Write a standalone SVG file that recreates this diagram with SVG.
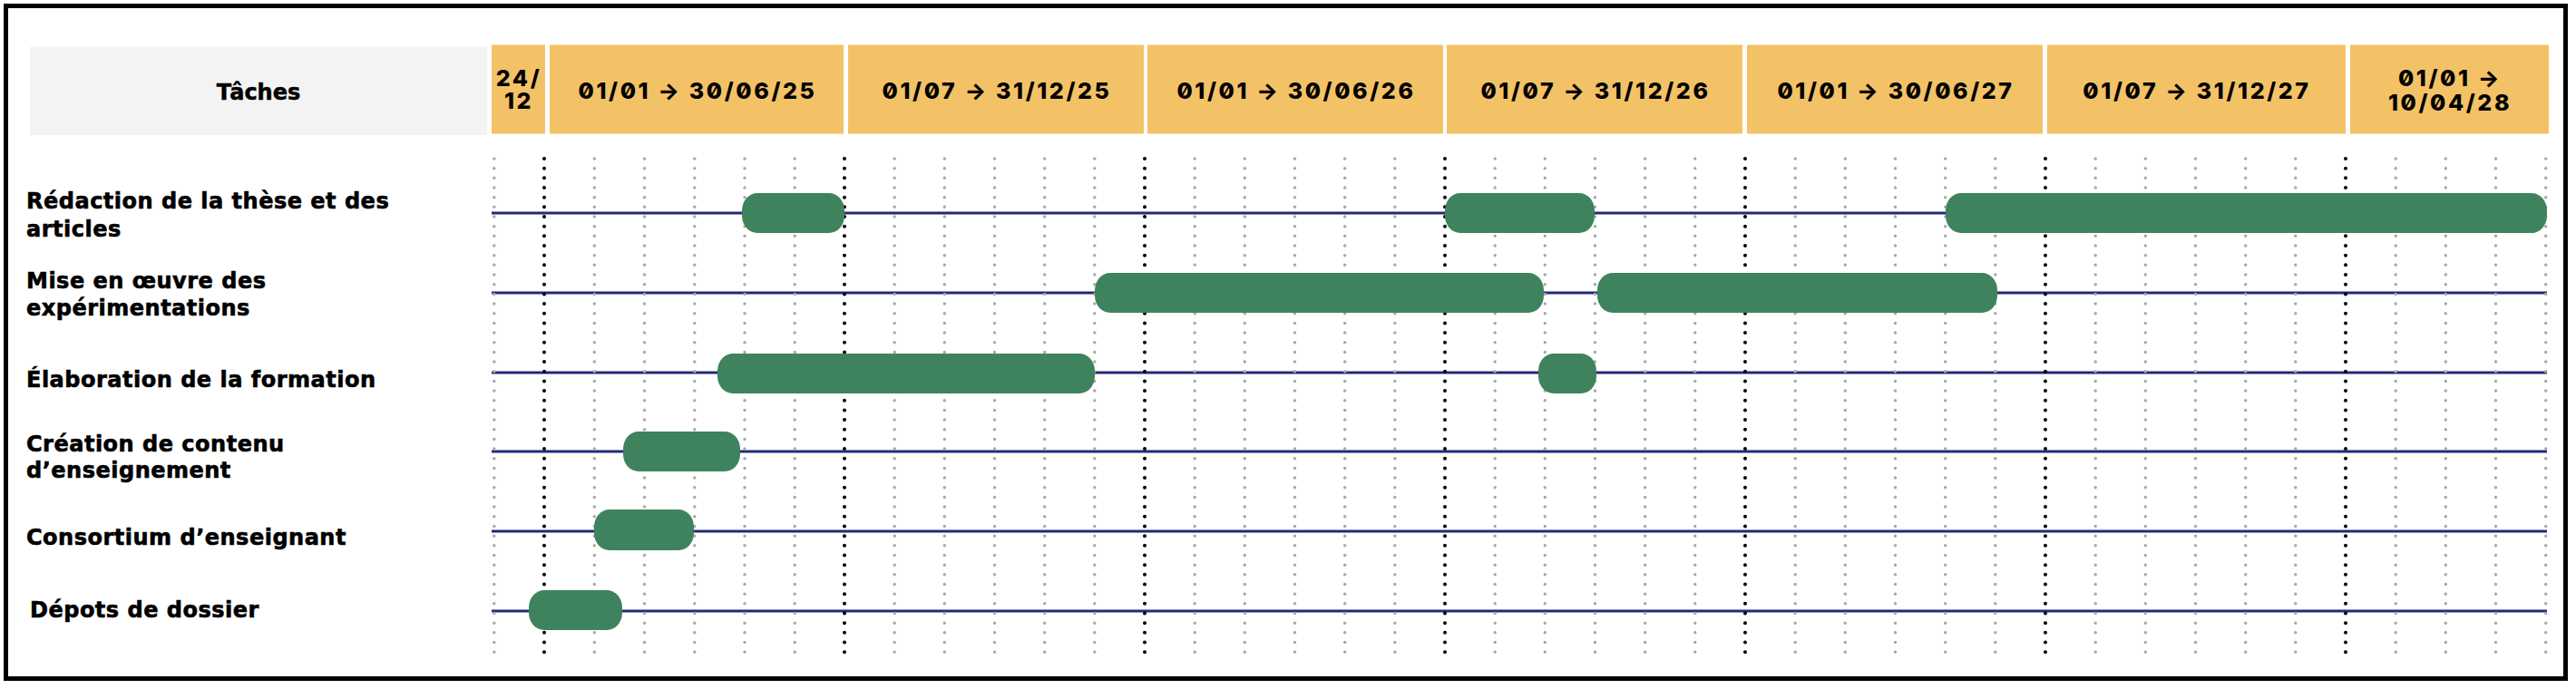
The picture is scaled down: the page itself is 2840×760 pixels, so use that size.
<svg xmlns="http://www.w3.org/2000/svg" width="2840" height="760" viewBox="0 0 2840 760">
<defs>
<style>
.frame{fill:#ffffff;stroke:#000000;stroke-width:5}
.hcell{fill:#f4c266}
.tcell{fill:#f3f3f3}
.hdate{font-family:Inter,"DejaVu Sans",sans-serif;font-weight:800;font-size:25px;letter-spacing:2.6px;fill:#000;text-anchor:middle;font-feature-settings:"zero" 1}
.htask{font-family:"DejaVu Sans",sans-serif;font-weight:700;font-size:24px;fill:#000;stroke:#000;stroke-width:0.5;text-anchor:middle}
.label{font-family:"DejaVu Sans",sans-serif;font-weight:700;font-size:24px;letter-spacing:0.5px;fill:#000;stroke:#000;stroke-width:0.6}
.row{stroke:#26287a;stroke-width:3;fill:none}
.g{stroke:#a9a9a9;stroke-width:3.5;stroke-linecap:round;stroke-dasharray:0 10.67;fill:none}
.k{stroke:#000;stroke-width:4;stroke-linecap:round;stroke-dasharray:0 10.67;fill:none}
.bar{fill:#3f835e}
</style>
</defs>
<rect class="frame" x="6.5" y="6.5" width="2822" height="742"/>

<g id="header">
<g id="h-taches"><rect class="tcell" x="33" y="51.5" width="504" height="97.5"/><text class="htask" x="285" y="110">Tâches</text></g>
<g id="h-2412"><rect class="hcell" x="542" y="49.5" width="59" height="98"/><text class="hdate" x="572" y="95">24/</text><text class="hdate" x="572" y="120">12</text></g>
<g id="h-s1-25"><rect class="hcell" x="606" y="49.5" width="324" height="98"/><text class="hdate" x="769" y="109">01/01 → 30/06/25</text></g>
<g id="h-s2-25"><rect class="hcell" x="935" y="49.5" width="326" height="98"/><text class="hdate" x="1099" y="109">01/07 → 31/12/25</text></g>
<g id="h-s1-26"><rect class="hcell" x="1265" y="49.5" width="326" height="98"/><text class="hdate" x="1429" y="109">01/01 → 30/06/26</text></g>
<g id="h-s2-26"><rect class="hcell" x="1595" y="49.5" width="326" height="98"/><text class="hdate" x="1759" y="109">01/07 → 31/12/26</text></g>
<g id="h-s1-27"><rect class="hcell" x="1926" y="49.5" width="326" height="98"/><text class="hdate" x="2090" y="109">01/01 → 30/06/27</text></g>
<g id="h-s2-27"><rect class="hcell" x="2257" y="49.5" width="329" height="98"/><text class="hdate" x="2422" y="109">01/07 → 31/12/27</text></g>
<g id="h-s1-28"><rect class="hcell" x="2591" y="49.5" width="219" height="98"/><text class="hdate" x="2701" y="95">01/01 →</text><text class="hdate" x="2701" y="122">10/04/28</text></g>
</g>

<g id="connectors">
<g id="rows">
<line class="row" x1="542" y1="235" x2="2808" y2="235"/>
<line class="row" x1="542" y1="323" x2="2808" y2="323"/>
<line class="row" x1="542" y1="411" x2="2808" y2="411"/>
<line class="row" x1="542" y1="498" x2="2808" y2="498"/>
<line class="row" x1="542" y1="586" x2="2808" y2="586"/>
<line class="row" x1="542" y1="674" x2="2808" y2="674"/>
</g>
<g id="grid">
<path class="g" d="M544.8 175V720M655.3 175V720M710.5 175V720M765.8 175V720M821 175V720M876.2 175V720M986.2 175V720M1041.3 175V720M1096.5 175V720M1151.7 175V720M1206.8 175V720M1317.2 175V720M1372.3 175V720M1427.5 175V720M1482.7 175V720M1537.8 175V720M1648.2 175V720M1703.3 175V720M1758.5 175V720M1813.7 175V720M1868.8 175V720M1979.2 175V720M2034.3 175V720M2089.5 175V720M2144.7 175V720M2199.8 175V720M2310.2 175V720M2365.3 175V720M2420.5 175V720M2475.7 175V720M2530.8 175V720M2641.2 175V720M2696.3 175V720M2751.5 175V720M2806.7 175V720"/>
<path class="k" d="M600 175V720M931 175V720M1262 175V720M1593 175V720M1924 175V720M2255 175V720M2586 175V720"/>
</g>
</g>

<g id="task-redaction">
<text class="label" x="29" y="230">Rédaction de la thèse et des</text>
<text class="label" x="29" y="261">articles</text>
<rect class="bar" x="818" y="213" width="113" height="44" rx="17" ry="19"/>
<rect class="bar" x="1593" y="213" width="165" height="44" rx="17" ry="19"/>
<rect class="bar" x="2145" y="213" width="663" height="44" rx="17" ry="19"/>
</g>
<g id="task-mise-en-oeuvre">
<text class="label" x="29" y="318">Mise en œuvre des</text>
<text class="label" x="29" y="348">expérimentations</text>
<rect class="bar" x="1207" y="301" width="495" height="44" rx="17" ry="19"/>
<rect class="bar" x="1761" y="301" width="441" height="44" rx="17" ry="19"/>
</g>
<g id="task-elaboration">
<text class="label" x="29" y="427">Élaboration de la formation</text>
<rect class="bar" x="791" y="390" width="416" height="44" rx="17" ry="19"/>
<rect class="bar" x="1696" y="390" width="64" height="44" rx="17" ry="19"/>
</g>
<g id="task-creation">
<text class="label" x="29" y="498">Création de contenu</text>
<text class="label" x="29" y="527">d’enseignement</text>
<rect class="bar" x="687" y="476" width="129" height="44" rx="17" ry="19"/>
</g>
<g id="task-consortium">
<text class="label" x="29" y="601">Consortium d’enseignant</text>
<rect class="bar" x="655" y="562" width="110" height="45" rx="17" ry="19"/>
</g>
<g id="task-depots">
<text class="label" x="33" y="681">Dépots de dossier</text>
<rect class="bar" x="583" y="651" width="103" height="44" rx="17" ry="19"/>
</g>
</svg>
